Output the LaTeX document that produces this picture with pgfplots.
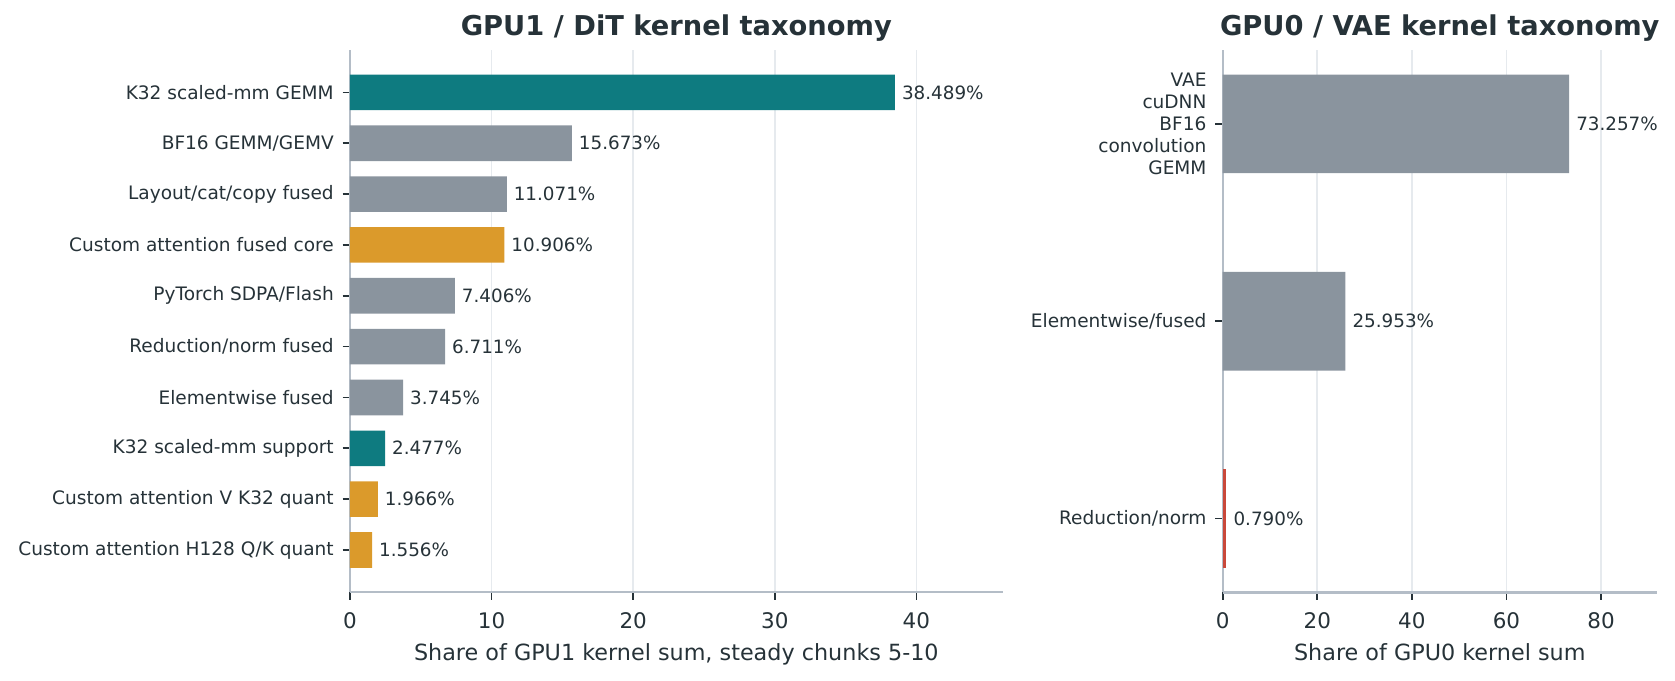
\documentclass[border=0pt]{standalone}
\usepackage{fontspec}
\setmainfont{DejaVu Sans}
\usepackage{pgfplots}
\pgfplotsset{compat=1.18}
\definecolor{teal1}{HTML}{0E7B80}
\definecolor{gray1}{HTML}{8A949E}
\definecolor{orange1}{HTML}{DB9A2B}
\definecolor{red1}{HTML}{C9483A}
\definecolor{ink}{HTML}{263238}
\definecolor{spine}{HTML}{B4BDC7}
\definecolor{gridc}{HTML}{E6EAEE}
\pgfplotsset{
 mystyle/.style={
  scale only axis, enlargelimits=false,
  axis x line*=bottom, axis y line*=left,
  axis line style={spine, line width=1pt},
  xmajorgrids, grid style={gridc, line width=0.8pt},
  tick align=outside, major tick length=3.5pt,
  tick style={ink, line width=0.8pt},
  xbar, bar shift=0pt,
  /pgf/number format/assume math mode=true,
  xticklabel style={font=\fontsize{10.3}{12}\selectfont, text=ink, anchor=base, yshift=-13.9pt},
  yticklabel style={font=\fontsize{8.9}{10.6}\selectfont, text=ink, anchor=east, inner sep=0pt, xshift=-4.1pt, align=right},
  xlabel style={font=\fontsize{10.7}{12.8}\selectfont, text=ink, at={(axis description cs:0.5,0)}, anchor=base, yshift=-32.7pt},
  title style={font=\bfseries\fontsize{13.1}{15.7}\selectfont, text=ink, at={(axis description cs:0.5,1)}, anchor=base, yshift=0.7pt},
  point meta=x,
  nodes near coords={\pgfmathprintnumber[fixed,zerofill,precision=3]{\pgfplotspointmeta}\%},
  every node near coord/.append style={font=\fontsize{8.8}{10.6}\selectfont, text=ink, anchor=west, inner sep=0pt, xshift=3.2pt},
 }
}
\begin{document}
\begin{tikzpicture}
\useasboundingbox (0,0) rectangle (804pt,326.88pt);
\begin{axis}[mystyle, at={(168pt,42.5pt)}, anchor=south west,
  width=313.3pt, height=260.4pt,
  xmin=0, xmax=46.1, ymin=-0.835, ymax=9.835, bar width=0.7,
  xtick={0,10,20,30,40}, ytick={0,...,9},
  yticklabels={Custom attention H128 Q/K quant, Custom attention V K32 quant, K32 scaled-mm support, Elementwise fused, Reduction/norm fused, PyTorch SDPA/Flash, Custom attention fused core, Layout/cat/copy fused, BF16 GEMM/GEMV, K32 scaled-mm GEMM},
  xlabel={Share of GPU1 kernel sum, steady chunks 5-10},
  title={GPU1 / DiT kernel taxonomy}]
\addplot[fill=teal1, draw=none] coordinates {(38.489,9) (2.477,2)};
\addplot[fill=gray1, draw=none] coordinates {(15.673,8) (11.071,7) (7.406,5) (6.711,4) (3.745,3)};
\addplot[fill=orange1, draw=none] coordinates {(10.906,6) (1.966,1) (1.556,0)};
\end{axis}
\begin{axis}[mystyle, at={(586.9pt,42.5pt)}, anchor=south west,
  width=208.4pt, height=260.4pt,
  xmin=0, xmax=91.8, ymin=-0.375, ymax=2.375, bar width=0.5,
  xtick={0,20,40,60,80}, ytick={0,1,2},
  yticklabels={Reduction/norm, Elementwise/fused, {VAE\\cuDNN\\BF16\\convolution\\GEMM}},
  xlabel={Share of GPU0 kernel sum},
  title={GPU0 / VAE kernel taxonomy}]
\addplot[fill=gray1, draw=none] coordinates {(73.257,2) (25.953,1)};
\addplot[fill=red1, draw=none] coordinates {(0.790,0)};
\end{axis}
\end{tikzpicture}
\end{document}
